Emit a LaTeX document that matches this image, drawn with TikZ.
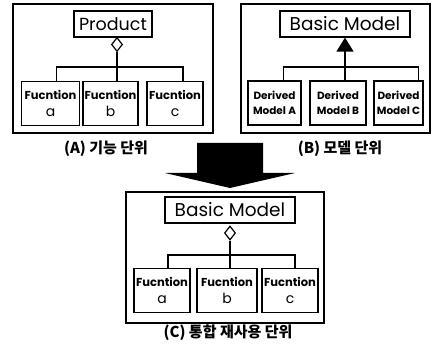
\documentclass[tikz,border=0pt]{standalone}
\usepackage{fontspec}
\setmainfont{Poppins}
\newfontfamily\kr{Noto Sans CJK KR}
\usetikzlibrary{shapes.geometric,arrows.meta}
\tikzset{
  frame/.style={draw, line width=1.3pt},
  bigbox/.style={draw, line width=1.2pt, inner sep=0pt, minimum height=26pt, font=\fontsize{18.5}{18.5}\selectfont},
  fbox/.style={draw, line width=1.2pt, inner sep=0pt, align=center, minimum height=44pt, font=\fontsize{11.5}{16}\selectfont},
  dbox/.style={fbox, font=\bfseries\fontsize{10.5}{14.5}\selectfont},
  dia/.style={diamond, draw, line width=1.2pt, fill=white, inner sep=0pt, minimum width=11pt, minimum height=14pt},
  conn/.style={line width=1.2pt},
  captext/.style={font=\kr\bfseries\fontsize{15}{15}\selectfont, inner sep=0pt}
}
\newcommand{\ftxt}[1]{{\bfseries Fucntion}\\[1pt]{\fontsize{14}{16}\selectfont #1}}
\begin{document}
\begin{tikzpicture}[x=1pt,y=-1pt]
\useasboundingbox (0,0) rectangle (433,344);
% ---------- Panel A ----------
\node[frame, minimum width=200pt, minimum height=129pt, inner sep=0pt] (frA) at (113,68.5) {};
\node[bigbox, minimum width=78pt, font=\fontsize{17.5}{17.5}\selectfont] (prod) at (113,24) {Product};
\node[dia] (dA) at (117,44.5) {};
\node[fbox, minimum width=58pt] (fa) at (50.5,103.5) {\ftxt{a}};
\node[fbox, minimum width=55pt] (fb) at (110.5,103.5) {\ftxt{b}};
\node[fbox, minimum width=56pt] (fc) at (175,103.5) {\ftxt{c}};
\coordinate (barA) at (0,67);
\draw[conn] (dA.south) -- (dA.south |- fb.north);
\draw[conn] ([xshift=6pt]fa.north) |- (dA.south |- barA) -| ([xshift=8pt]fc.north);
\node[captext] (capA) at (106,149) {(A) 기능 단위};
% ---------- Panel B ----------
\node[frame, minimum width=189pt, minimum height=129pt, inner sep=0pt] (frB) at (335.5,68.5) {};
\node[bigbox, minimum width=130pt] (bm) at (345,24) {Basic Model};
\node[dbox, minimum width=53pt] (da) at (274.5,103) {Derived\\Model A};
\node[dbox, minimum width=56pt] (db) at (338,103) {Derived\\Model B};
\node[dbox, minimum width=49pt] (dc) at (398.5,103) {Derived\\Model C};
\coordinate (barB) at (0,67);
\draw[conn, -{Triangle[length=14pt,width=17pt]}] (bm.south |- db.north) -- (bm.south);
\draw[conn] ([xshift=9pt]da.north) |- (bm.south |- barB) -| ([xshift=20pt]dc.north);
\node[captext] (capB) at (340,149) {(B) 모델 단위};
% ---------- big arrow ----------
\fill (197,143) -- (263,143) -- (263,173) -- (295,173) -- (230,188) -- (165,173) -- (197,173) -- cycle;
% ---------- Panel C ----------
\node[frame, minimum width=198pt, minimum height=131pt, inner sep=0pt] (frC) at (225,257.5) {};
\node[bigbox, minimum width=130pt] (bmC) at (230,210) {Basic Model};
\node[dia] (dC) at (230,233) {};
\node[fbox, minimum width=56pt] (ga) at (162,290.5) {\ftxt{a}};
\node[fbox, minimum width=60pt] (gb) at (227,290.5) {\ftxt{b}};
\node[fbox, minimum width=56pt] (gc) at (290,290.5) {\ftxt{c}};
\coordinate (barC) at (0,255);
\draw[conn] (dC.south) -- (dC.south |- gb.north);
\draw[conn] ([xshift=6pt]ga.north) |- (dC.south |- barC) -| ([xshift=5pt]gc.north);
\node[captext] (capC) at (228,333) {(C) 통합 재사용 단위};
\end{tikzpicture}
\end{document}
